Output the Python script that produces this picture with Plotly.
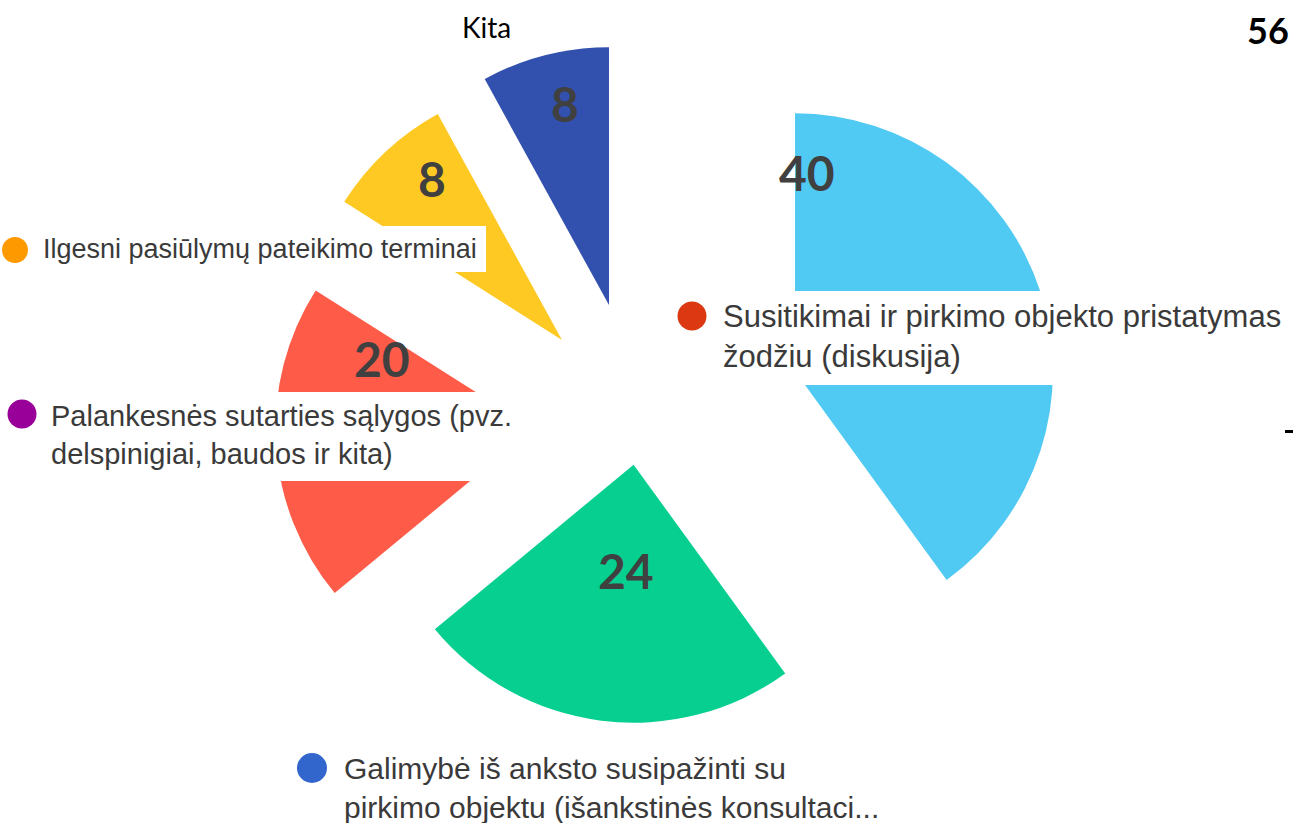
import plotly.graph_objects as go

# ---- data ----
categories = [
    "Susitikimai ir pirkimo objekto pristatymas žodžiu (diskusija)",
    "Galimybė iš anksto susipažinti su pirkimo objektu (išankstinės konsultacijos)",
    "Palankesnės sutarties sąlygos (pvz. delspinigiai, baudos ir kita)",
    "Ilgesni pasiūlymų pateikimo terminai",
    "Kita",
]
values = [40, 24, 20, 8, 8]
pulls = [0.636, 0.167, 0.41, 0.436, 0.468]
colors = ["#51CAF3", "#06CF90", "#FE5B48", "#FFC924", "#3250AD"]

# legend-like labels (screenshot pieces)
legend_texts = [
    "Ilgesni pasiūlymų pateikimo terminai",
    "Palankesnės sutarties sąlygos (pvz.<br>delspinigiai, baudos ir kita)",
    "Susitikimai ir pirkimo objekto pristatymas<br>žodžiu (diskusija)",
    "Galimybė iš anksto susipažinti su<br>pirkimo objektu (išankstinės konsultaci...",
]
legend_dot_colors = ["#FF9900", "#990099", "#DC3912", "#3366CC"]

# ---- layout helpers ----
W, H = 1293, 844


def fx(x):
    return x / W


def fy(y):
    return 1 - y / H


fig = go.Figure()
fig.add_trace(go.Pie(
    values=values,
    labels=categories,
    sort=False,
    direction="clockwise",
    rotation=0,
    pull=pulls,
    marker=dict(colors=colors, line=dict(width=0)),
    textinfo="none",
    hoverinfo="label+value",
    showlegend=False,
    domain=dict(x=[0, 2 * 639 / W], y=[0, 1]),
))

shapes = []
# white boxes of the pasted legend labels
boxes = [(0, 226, 486, 272), (0, 392, 538, 481), (665, 291, 1293, 385), (280, 740, 900, 844)]
for x0, y0, x1, y1 in boxes:
    shapes.append(dict(type="rect", xref="paper", yref="paper", layer="above",
                       x0=fx(x0), x1=fx(x1), y0=fy(y1), y1=fy(y0),
                       fillcolor="white", line=dict(width=0)))
# legend dots
dot_pos = [(15, 250, 26), (22, 414, 29), (692, 316, 29), (312, 768, 30)]
for (cx, cy, d), c in zip(dot_pos, legend_dot_colors):
    shapes.append(dict(type="circle", xref="paper", yref="paper", layer="above",
                       x0=fx(cx - d / 2), x1=fx(cx + d / 2), y0=fy(cy + d / 2), y1=fy(cy - d / 2),
                       fillcolor=c, line=dict(width=0)))
# small dash at the right edge
shapes.append(dict(type="line", xref="paper", yref="paper", layer="above",
                   x0=fx(1285), x1=fx(1293), y0=fy(431.5), y1=fy(431.5),
                   line=dict(color="#000000", width=3)))

annotations = []
legend_pos = [(41, 249, 27), (49, 435, 29), (721, 336, 31), (342, 788, 30)]
for (lx, ly, fs), t in zip(legend_pos, legend_texts):
    annotations.append(dict(xref="paper", yref="paper", x=fx(lx), y=fy(ly),
                            xanchor="left", yanchor="middle", align="left",
                            text=t, showarrow=False,
                            font=dict(family="Liberation Sans, Arial", size=fs, color="#3a3a3a")))

# value labels
value_pos = [(807, 172), (626, 570), (382, 358), (432, 178), (565, 103)]
for (vx, vy), v in zip(value_pos, values):
    annotations.append(dict(xref="paper", yref="paper", x=fx(vx), y=fy(vy),
                            xanchor="center", yanchor="middle",
                            text=f"<b>{v}</b>", showarrow=False,
                            font=dict(family="Lato, Open Sans", size=48, color="#404040")))

annotations.append(dict(xref="paper", yref="paper", x=fx(486), y=fy(27),
                        xanchor="center", yanchor="middle", text="Kita", showarrow=False,
                        font=dict(family="Lato, Open Sans", size=28, color="#000000")))
annotations.append(dict(xref="paper", yref="paper", x=fx(1291), y=fy(30),
                        xanchor="right", yanchor="middle", text="<b>56</b>", showarrow=False,
                        font=dict(family="Lato, Open Sans", size=36, color="#000000")))

fig.update_layout(
    width=W, height=H,
    margin=dict(l=0, r=0, t=0, b=0),
    paper_bgcolor="white",
    plot_bgcolor="white",
    shapes=shapes,
    annotations=annotations,
)

fig.write_html(
    "out.html",
    config={"displayModeBar": False},
    post_script="document.body.style.margin='0';document.body.style.overflow='hidden';document.documentElement.style.overflow='hidden';",
)
